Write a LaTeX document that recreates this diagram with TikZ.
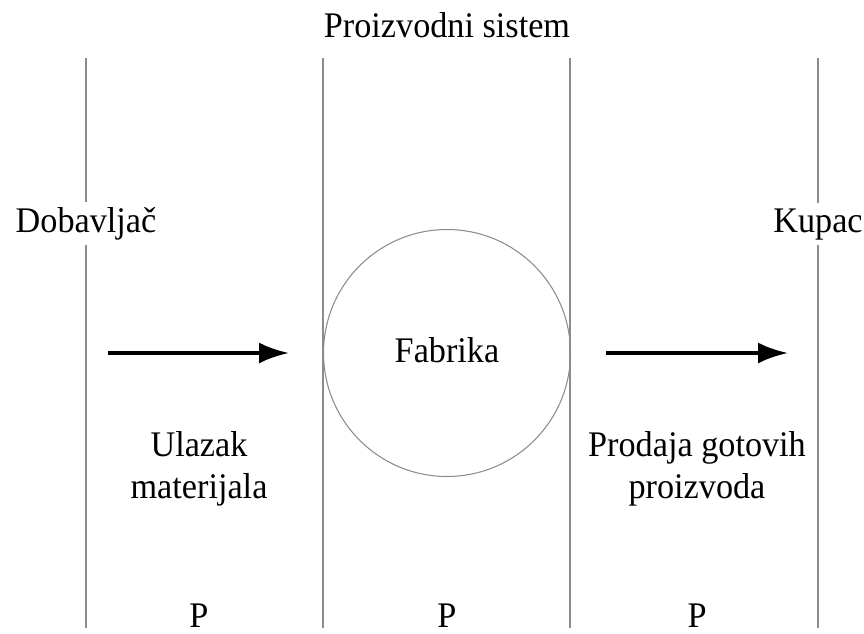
\documentclass[tikz,border=0pt]{standalone}
\usepackage{fontspec}
\setmainfont{Liberation Serif}[FakeStretch=0.95]
\usepackage{tikz}
\usetikzlibrary{arrows.meta,positioning}

\begin{document}
\begin{tikzpicture}[x=0.02cm,y=-0.02cm,
  border/.style={draw=black!45,line width=0.6pt},
  label/.style={font=\fontsize{20.5}{23.5}\selectfont,align=center,inner sep=2pt},
  edge/.style={fill=white,inner sep=3pt},
  flow/.style={-{Latex[length=0.6cm,width=0.42cm]},line width=2.1pt}
]
\useasboundingbox (0,0) rectangle (864,633);
% vertical borders of the system
\foreach \x/\n in {86/a,323/b,570/c,818/d}{
  \coordinate (\n top) at (\x,58);
  \coordinate (\n bot) at (\x,628);
  \draw[border] (\n top) -- (\n bot);
}
\node[label,anchor=base] (sistem) at (447,37) {Proizvodni sistem};
\node[label,edge,anchor=base] (dobavljac) at (86,232) {Dobavljač};
\node[label,edge,anchor=base] (kupac) at (818,232) {Kupac};
\node[border,circle,minimum size=4.94cm,inner sep=0pt] (fabrika) at (447,353) {};
\node[label,anchor=base] (fabtext) at (447,362) {Fabrika};
\coordinate (ulaz s) at (108,353);
\coordinate (ulaz e) at (289,353);
\coordinate (izlaz s) at (606,353);
\coordinate (izlaz e) at (788,353);
\draw[flow] (ulaz s) -- (ulaz e);
\draw[flow] (izlaz s) -- (izlaz e);
% two-line labels: base is the last line
\node[label,anchor=base] (ulazak) at (199,498) {Ulazak\\materijala};
\node[label,anchor=base] (prodaja) at (697,498) {Prodaja gotovih\\proizvoda};
\foreach \x/\n in {199/1,447/2,697/3}
  \node[label,anchor=base] (p\n) at (\x,627) {P};
\end{tikzpicture}
\end{document}
